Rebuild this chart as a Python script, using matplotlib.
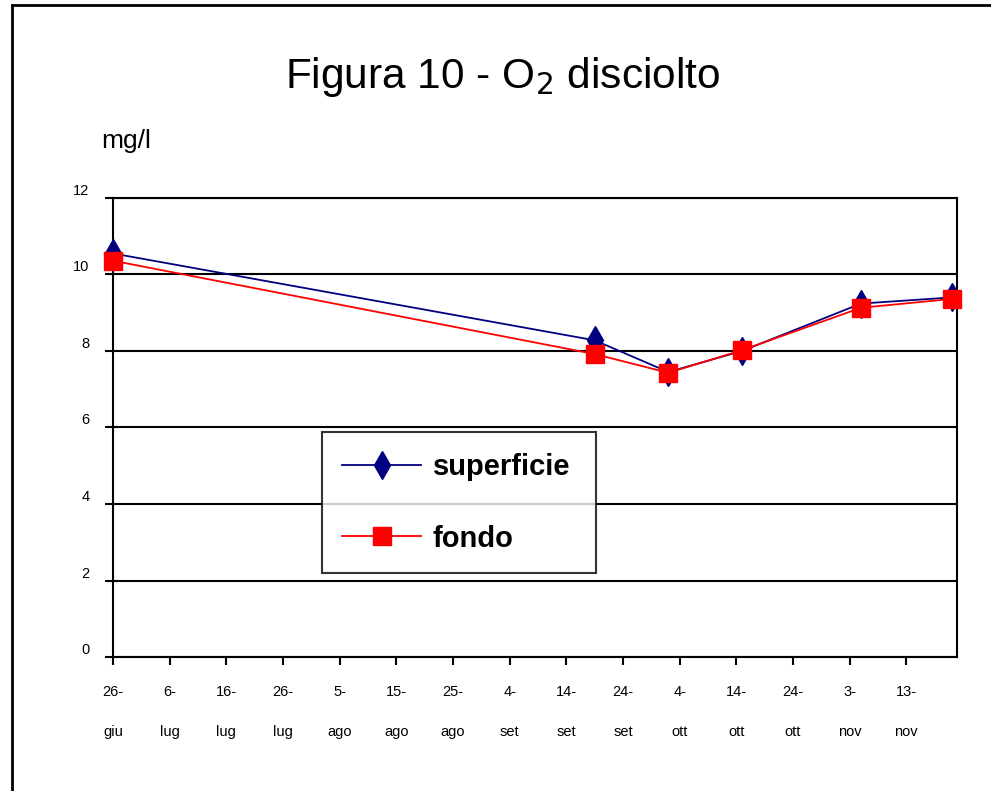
import matplotlib.pyplot as plt
from matplotlib.lines import Line2D

plt.rcParams["font.family"] = ["Liberation Sans", "DejaVu Sans"]

# sampling days, counted from 26 June
giorni = [0, 85, 98, 111, 132, 148]
superficie = [10.55, 8.28, 7.45, 8.00, 9.24, 9.40]
fondo = [10.36, 7.92, 7.43, 8.02, 9.13, 9.36]

tick_giorni = [0, 10, 20, 30, 40, 50, 60, 70, 80, 90, 100, 110, 120, 130, 140]
tick_giorno = ["26-", "6-", "16-", "26-", "5-", "15-", "25-", "4-",
               "14-", "24-", "4-", "14-", "24-", "3-", "13-"]
tick_mese = ["giu", "lug", "lug", "lug", "ago", "ago", "ago", "set",
             "set", "set", "ott", "ott", "ott", "nov", "nov"]
y_ticks = [0, 2, 4, 6, 8, 10, 12]

fig = plt.figure(figsize=(9.91, 7.91), dpi=100)
ax = fig.add_axes([0.114, 0.1694, 0.852, 0.5803])

# outer frame (only top and left edges are visible)
fig.add_artist(Line2D([12 / 991, 12 / 991], [0, 1 - 5 / 791], color="black",
                      lw=2, transform=fig.transFigure))
fig.add_artist(Line2D([12 / 991, 1], [1 - 5 / 791, 1 - 5 / 791], color="black",
                      lw=2, transform=fig.transFigure))

ax.plot(giorni, superficie, color="#000080", lw=1.3, marker="d",
        markersize=14, markerfacecolor="#000080", markeredgecolor="#000080",
        label="superficie", zorder=3, clip_on=False)
ax.plot(giorni, fondo, color="#ff0000", lw=1.3, marker="s",
        markersize=13, markerfacecolor="#ff0000", markeredgecolor="#ff0000",
        label="fondo", zorder=4, clip_on=False)

ax.set_xlim(0, 149)
ax.set_ylim(0, 12)
ax.set_yticks(y_ticks)
ax.set_yticklabels([str(v) for v in y_ticks], fontsize=10.5)
for lbl in ax.get_yticklabels():
    lbl.set_verticalalignment("bottom")
ax.set_xticks(tick_giorni)
ax.set_xticklabels([f"{g}\n{m}" for g, m in zip(tick_giorno, tick_mese)],
                   fontsize=10.5, linespacing=3.4)
ax.tick_params(axis="both", direction="out", length=6, width=1.5, color="black")
ax.tick_params(axis="x", pad=14)
ax.tick_params(axis="y", pad=11)

ax.grid(axis="y", color="black", lw=1.5)
ax.set_axisbelow(True)
for s in ax.spines.values():
    s.set_linewidth(1.5)
    s.set_color("black")

fig.text(0.507, 0.903, "Figura 10 - O$_2$ disciolto", ha="center", va="center",
         fontsize=30.5)
fig.text(0.102, 0.822, "mg/l", ha="left", va="center", fontsize=19)

leg = ax.legend(loc="lower left", bbox_to_anchor=(0.2476, 0.183, 0.325, 0.307),
                mode="expand", borderaxespad=0, fontsize=21, frameon=True,
                fancybox=False, handlelength=2.7, borderpad=0.7,
                labelspacing=1.5, handletextpad=0.4)
leg.get_frame().set_edgecolor("black")
leg.get_frame().set_linewidth(1.5)
for t in leg.get_texts():
    t.set_fontweight("bold")

fig.savefig("out.png", dpi=100)
